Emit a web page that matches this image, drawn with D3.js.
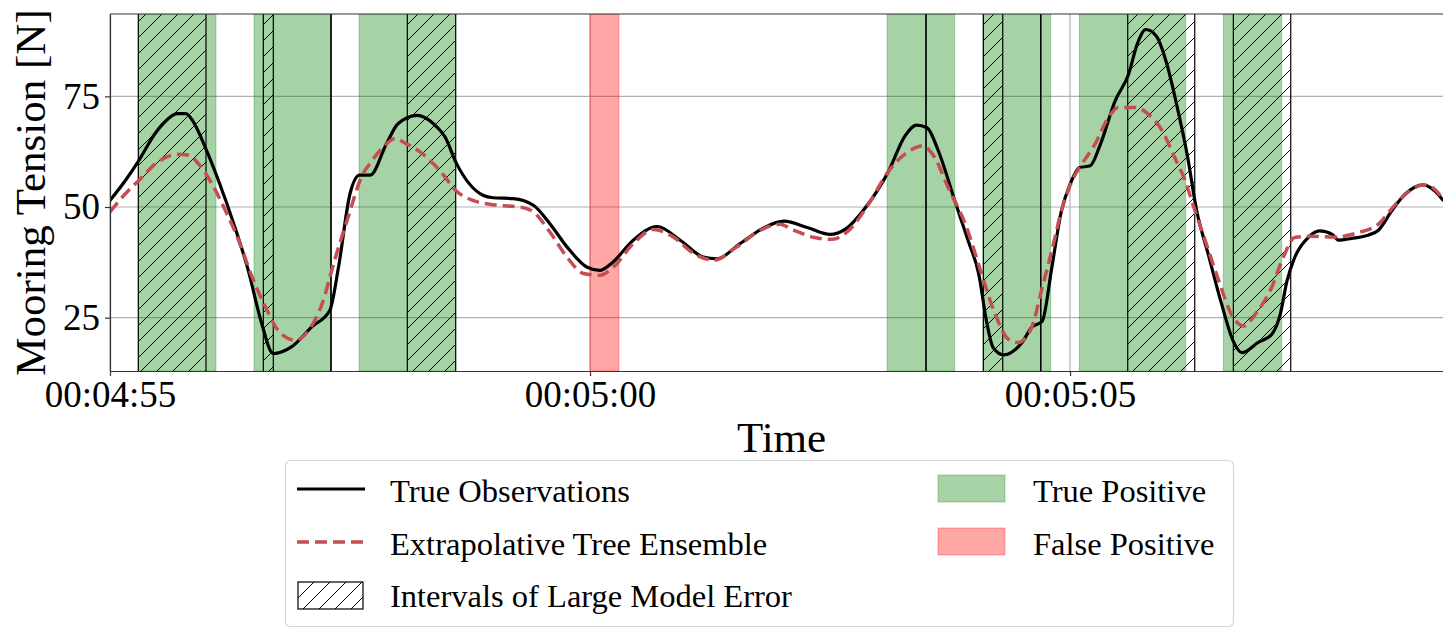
<!DOCTYPE html>
<html>
<head>
<meta charset="utf-8">
<script src="https://cdn.jsdelivr.net/npm/d3@7"></script>
<style>
  body { margin: 0; background: #fff; }
  svg { display: block; }
</style>
</head>
<body>
<div id="chart"></div>
<script>
// times are seconds of the clock (295 = 00:04:55)
const obsTime = [295.00, 295.16, 295.30, 295.47, 295.57, 295.70, 295.79, 295.87, 295.99, 296.13,
  296.30, 296.44, 296.58, 296.70, 296.89, 297.10, 297.29, 297.38, 297.50, 297.60,
  297.71, 297.88, 298.00, 298.20, 298.37, 298.49, 298.61, 298.89, 298.99, 299.20,
  299.41, 299.58, 299.76, 299.97, 300.10, 300.24, 300.45, 300.70, 300.94, 301.18,
  301.32, 301.56, 301.81, 302.02, 302.27, 302.50, 302.66, 302.87, 303.11, 303.28,
  303.40, 303.51, 303.63, 303.80, 303.94, 304.05, 304.13, 304.20, 304.31, 304.50,
  304.60, 304.71, 304.81, 304.91, 305.00, 305.10, 305.21, 305.31, 305.47, 305.61,
  305.70, 305.79, 305.90, 306.01, 306.11, 306.22, 306.32, 306.44, 306.58, 306.70,
  306.79, 306.96, 307.10, 307.19, 307.26, 307.34, 307.48, 307.60, 307.73, 307.80,
  307.93, 308.11, 308.21, 308.35, 308.49, 308.68, 308.80, 308.89];
const obsValue = [51.5, 56.0, 60.5, 66.6, 69.2, 71.1, 71.1, 69.2, 63.6, 56.0,
  45.5, 35.7, 23.7, 16.9, 18.4, 22.9, 26.7, 36.4, 53.0, 57.2,
  57.2, 64.3, 68.8, 70.7, 68.8, 65.8, 59.8, 52.6, 52.1, 51.9,
  50.4, 46.3, 41.0, 36.4, 35.7, 37.6, 42.5, 45.6, 42.5, 38.7,
  38.3, 41.7, 45.3, 46.8, 45.3, 43.8, 45.0, 49.9, 58.1, 66.0,
  68.5, 67.9, 62.6, 51.4, 42.3, 34.8, 24.2, 18.2, 16.6, 19.4,
  22.8, 24.2, 36.3, 49.1, 55.1, 58.9, 59.3, 63.8, 74.0, 80.0,
  86.8, 90.1, 88.6, 82.2, 73.2, 61.9, 49.1, 39.3, 28.0, 19.7,
  17.1, 19.4, 21.2, 25.8, 33.3, 38.6, 43.1, 44.6, 43.8, 42.5,
  42.9, 43.7, 44.7, 49.1, 52.9, 55.0, 53.6, 51.4];

const predTime = [295.00, 295.16, 295.30, 295.50, 295.71, 295.82, 295.92, 296.06, 296.20, 296.34,
  296.48, 296.62, 296.75, 296.93, 297.07, 297.21, 297.34, 297.48, 297.62, 297.73,
  297.85, 297.97, 298.07, 298.25, 298.49, 298.58, 298.78, 299.03, 299.27, 299.41,
  299.58, 299.76, 299.93, 300.10, 300.24, 300.45, 300.66, 300.87, 301.08, 301.29,
  301.53, 301.77, 301.98, 302.10, 302.34, 302.52, 302.69, 302.90, 303.11, 303.32,
  303.46, 303.59, 303.73, 303.91, 304.08, 304.22, 304.36, 304.46, 304.60, 304.71,
  304.81, 304.91, 305.02, 305.12, 305.26, 305.40, 305.50, 305.68, 305.82, 305.96,
  306.09, 306.20, 306.28, 306.41, 306.55, 306.68, 306.81, 306.93, 307.10, 307.22,
  307.34, 307.52, 307.76, 308.00, 308.21, 308.39, 308.56, 308.68, 308.80, 308.89];
const predValue = [48.9, 53.0, 56.0, 60.2, 61.9, 61.7, 59.8, 55.3, 49.3, 42.5,
  34.2, 27.4, 22.2, 19.9, 22.2, 28.2, 38.0, 47.7, 56.8, 60.5,
  63.6, 65.5, 64.5, 62.1, 56.8, 54.2, 51.5, 50.4, 50.0, 48.9,
  44.4, 38.7, 35.0, 34.6, 36.4, 41.7, 44.9, 43.2, 39.5, 38.0,
  41.0, 44.7, 46.1, 45.0, 43.1, 42.7, 44.6, 50.6, 58.1, 62.6,
  63.8, 61.2, 54.4, 46.1, 34.8, 25.8, 20.1, 19.4, 22.8, 31.8,
  40.1, 49.1, 55.9, 59.6, 64.2, 70.2, 72.5, 72.5, 70.9, 67.2,
  61.2, 55.9, 50.6, 42.3, 33.3, 25.8, 23.1, 25.8, 31.8, 38.6,
  43.1, 43.4, 43.2, 44.2, 46.1, 50.6, 54.0, 55.0, 54.0, 51.4];

const truePositive = [[295.295, 296.104], [296.50, 297.302], [297.594, 298.599], [303.094, 303.799],
  [304.094, 304.799], [305.097, 306.205], [306.597, 307.205]];
const falsePositive = [[300.00, 300.302]];
const largeError = [[295.295, 296.00], [296.597, 296.701], [297.302, 297.302], [298.097, 298.601],
  [303.50, 303.50], [304.097, 304.299], [304.695, 304.695], [305.601, 306.299], [306.701, 307.299]];

const xTicks = [295, 300, 305];
const yTicks = [25, 50, 75];
const xDomain = [295, 308.885];
const yDomain = [12.96, 93.6];

const W = 1443, H = 629;
const margin = { top: 14, right: 0, bottom: 258, left: 110 };
const serif = "'Liberation Serif', 'DejaVu Serif', serif";
const redLine = "#c44e52";

const svg = d3.select("#chart").append("svg")
  .attr("width", W)
  .attr("height", H);

const x = d3.scaleLinear().domain(xDomain).range([margin.left, W - margin.right]);
const y = d3.scaleLinear().domain(yDomain).range([H - margin.bottom, margin.top]);

const defs = svg.append("defs");
defs.append("clipPath").attr("id", "plot-clip")
  .append("rect")
  .attr("x", margin.left)
  .attr("y", margin.top)
  .attr("width", W - margin.left - margin.right)
  .attr("height", H - margin.top - margin.bottom);

const hatch = defs.append("pattern")
  .attr("id", "hatch")
  .attr("patternUnits", "userSpaceOnUse")
  .attr("width", 16)
  .attr("height", 16);
hatch.append("path")
  .attr("d", "M0,16 L16,0 M-4,4 L4,-4 M12,20 L20,12")
  .attr("stroke", "#000")
  .attr("stroke-width", 1);

const fmt = s => {
  const m = Math.floor(s / 60), sec = Math.round(s % 60);
  return `00:${String(m).padStart(2, "0")}:${String(sec).padStart(2, "0")}`;
};

const yTop = y(yDomain[1]), yBottom = y(yDomain[0]);

// grid
const grid = svg.append("g");
grid.selectAll(".hgrid").data(yTicks).enter().append("line")
  .attr("x1", margin.left).attr("x2", W)
  .attr("y1", d => y(d)).attr("y2", d => y(d))
  .attr("stroke", "#b0b0b0").attr("stroke-width", 1.2);
grid.selectAll(".vgrid").data(xTicks).enter().append("line")
  .attr("x1", d => x(d)).attr("x2", d => x(d))
  .attr("y1", yBottom).attr("y2", yTop)
  .attr("stroke", "#b0b0b0").attr("stroke-width", 1.2);

const plot = svg.append("g").attr("clip-path", "url(#plot-clip)");

plot.selectAll(".tp").data(truePositive).enter().append("rect")
  .attr("x", d => x(d[0]))
  .attr("width", d => x(d[1]) - x(d[0]))
  .attr("y", yTop).attr("height", yBottom - yTop)
  .attr("fill", "green").attr("fill-opacity", 0.35)
  .attr("stroke", "green").attr("stroke-opacity", 0.3).attr("stroke-width", 1);

plot.selectAll(".fp").data(falsePositive).enter().append("rect")
  .attr("x", d => x(d[0]))
  .attr("width", d => x(d[1]) - x(d[0]))
  .attr("y", yTop).attr("height", yBottom - yTop)
  .attr("fill", "red").attr("fill-opacity", 0.35)
  .attr("stroke", "red").attr("stroke-opacity", 0.3).attr("stroke-width", 1);

plot.selectAll(".err").data(largeError).enter().append("rect")
  .attr("x", d => x(d[0]))
  .attr("width", d => x(d[1]) - x(d[0]))
  .attr("y", yTop).attr("height", yBottom - yTop)
  .attr("fill", "url(#hatch)");
plot.selectAll(".errEdge").data(largeError.flatMap(d => d)).enter().append("line")
  .attr("x1", d => x(d)).attr("x2", d => x(d))
  .attr("y1", yTop).attr("y2", yBottom)
  .attr("stroke", "#000").attr("stroke-width", 1.2);

const obs = obsTime.map((t, i) => [t, obsValue[i]]);
const pred = predTime.map((t, i) => [t, predValue[i]]);
const line = d3.line().x(d => x(d[0])).y(d => y(d[1])).curve(d3.curveMonotoneX);

plot.append("path").datum(obs)
  .attr("fill", "none").attr("stroke", "#000")
  .attr("stroke-width", 3.2).attr("stroke-linejoin", "round")
  .attr("d", line);
plot.append("path").datum(pred)
  .attr("fill", "none").attr("stroke", redLine)
  .attr("stroke-width", 3.5).attr("stroke-dasharray", "12,6")
  .attr("d", line);

// axes
const xAxis = svg.append("g")
  .attr("transform", `translate(0,${yBottom})`)
  .call(d3.axisBottom(x).tickValues(xTicks).tickFormat(fmt).tickSize(5).tickSizeOuter(0).tickPadding(5));
const yAxis = svg.append("g")
  .attr("transform", `translate(${margin.left},0)`)
  .call(d3.axisLeft(y).tickValues(yTicks).tickSize(5).tickSizeOuter(0).tickPadding(5));
[xAxis, yAxis].forEach(a => {
  a.select(".domain").attr("stroke", "#333").attr("stroke-width", 1.2);
  a.selectAll(".tick line").attr("stroke", "#333").attr("stroke-width", 1.2);
  a.selectAll(".tick text")
    .attr("fill", "#000")
    .style("font-family", serif)
    .style("font-size", "37px");
});
svg.append("line")
  .attr("x1", margin.left).attr("x2", W)
  .attr("y1", yTop).attr("y2", yTop)
  .attr("stroke", "#333").attr("stroke-width", 1.2);

svg.append("text")
  .attr("x", (margin.left + W) / 2 + 5)
  .attr("y", 452)
  .attr("text-anchor", "middle")
  .style("font-family", serif)
  .style("font-size", "43px")
  .text("Time");

svg.append("text")
  .attr("transform", `translate(45,${(yTop + yBottom) / 2}) rotate(-90)`)
  .attr("text-anchor", "middle")
  .style("font-family", serif)
  .style("font-size", "43px")
  .text("Mooring Tension [N]");

// legend
const legend = svg.append("g");
legend.append("rect")
  .attr("x", 285.5).attr("y", 460.5)
  .attr("width", 948).attr("height", 166)
  .attr("rx", 5)
  .attr("fill", "#fff").attr("fill-opacity", 0.85)
  .attr("stroke", "#d6d6d6").attr("stroke-width", 1.2);

const legendText = (lx, ly, label) => legend.append("text")
  .attr("x", lx).attr("y", ly)
  .attr("dy", "0.35em")
  .style("font-family", serif)
  .style("font-size", "32.5px")
  .text(label);

legend.append("line")
  .attr("x1", 297).attr("x2", 365).attr("y1", 489).attr("y2", 489)
  .attr("stroke", "#000").attr("stroke-width", 3.2);
legendText(390, 491, "True Observations");

legend.append("line")
  .attr("x1", 297).attr("x2", 365).attr("y1", 542).attr("y2", 542)
  .attr("stroke", redLine).attr("stroke-width", 3.5).attr("stroke-dasharray", "12,6");
legendText(390, 544, "Extrapolative Tree Ensemble");

legend.append("rect")
  .attr("x", 298).attr("y", 582).attr("width", 65).attr("height", 27)
  .attr("fill", "url(#hatch)").attr("stroke", "#000").attr("stroke-width", 1.2);
legendText(390, 596, "Intervals of Large Model Error");

legend.append("rect")
  .attr("x", 938).attr("y", 475).attr("width", 67).attr("height", 27)
  .attr("fill", "green").attr("fill-opacity", 0.35)
  .attr("stroke", "green").attr("stroke-opacity", 0.3);
legendText(1033, 491, "True Positive");

legend.append("rect")
  .attr("x", 938).attr("y", 528).attr("width", 67).attr("height", 27)
  .attr("fill", "red").attr("fill-opacity", 0.35)
  .attr("stroke", "red").attr("stroke-opacity", 0.3);
legendText(1033, 544, "False Positive");
</script>
</body>
</html>
